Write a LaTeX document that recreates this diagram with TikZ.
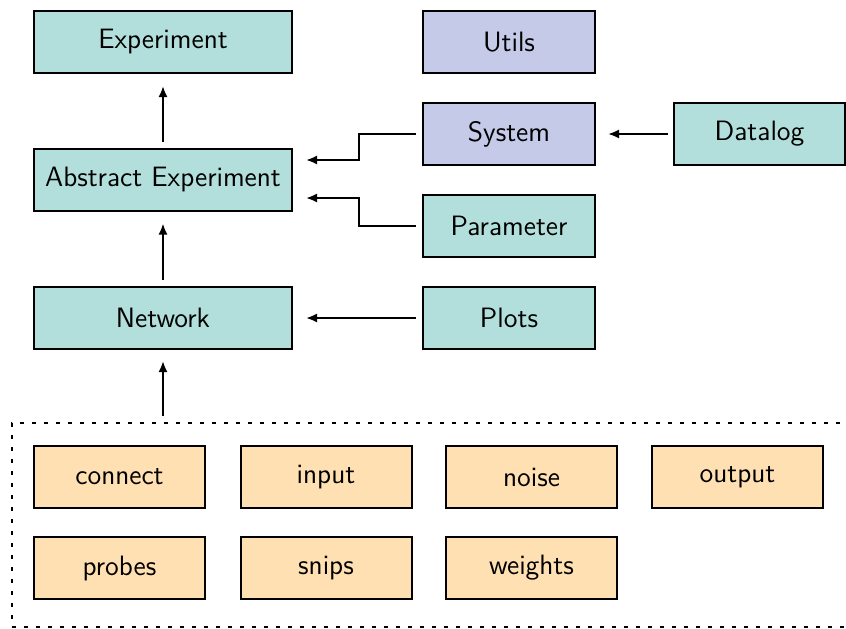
\documentclass[tikz,border=0pt]{standalone}
\usetikzlibrary{arrows.meta,calc}
\definecolor{teal1}{HTML}{B2DFDB}
\definecolor{indigo1}{HTML}{C5CAE9}
\definecolor{orange1}{HTML}{FFE0B2}
\begin{document}
\begin{tikzpicture}[x=0.5pt,y=-0.5pt,
  box/.style={draw=black, line width=1pt, minimum height=31pt, inner sep=0pt,
    font=\sffamily\fontsize{14}{16.5}\selectfont},
  wide/.style={box, minimum width=129pt},
  mid/.style={box, minimum width=86pt},
  tealbox/.style={fill=teal1},
  indbox/.style={fill=indigo1},
  orbox/.style={fill=orange1, box, minimum width=85.5pt},
  arr/.style={-{Latex[length=5.5pt,width=4.5pt]}, line width=1pt},
  framebox/.style={draw=black, line width=1pt, dash pattern=on 2pt off 4pt, minimum width=435pt, minimum height=102pt, inner sep=0pt}
]
\useasboundingbox (0,0) rectangle (846,628);
\clip (0,0) rectangle (846,628);

\node[wide, tealbox] (exp) at (163,42) {Experiment};
\node[mid, indbox] (utl) at (509,42) {Utils};
\node[mid, indbox] (sys) at (509,134) {System};
\node[box, tealbox, minimum width=85.5pt] (dat) at (759.5,134) {Datalog};
\node[wide, tealbox] (abs) at (163,179.5) {Abstract Experiment};
\node[mid, tealbox] (par) at (509,226) {Parameter};
\node[wide, tealbox] (net) at (163,318) {Network};
\node[mid, tealbox] (plt) at (509,318) {Plots};

\node[framebox] (fr) at (447,525) {};

\node[orbox] (con) at (119.5,477) {connect};
\node[orbox] (inp) at (326,477) {input};
\node[orbox] (noi) at (531.5,477) {noise};
\node[orbox] (out) at (737.5,477) {output};
\node[orbox] (prb) at (119.5,568) {probes};
\node[orbox] (snp) at (326,568) {snips};
\node[orbox] (wgt) at (531.5,568) {weights};

\draw[arr, shorten <=3pt, shorten >=6pt] (abs.north) -- (exp.south);
\draw[arr, shorten <=3pt, shorten >=6pt] (net.north) -- (abs.south);
\draw[arr, shorten <=3pt, shorten >=5.5pt] (net.south |- fr.north) -- (net.south);
\draw[arr, shorten <=3pt, shorten >=6.5pt] (sys.west) -- ++(-63,0) |- ([yshift=9.75pt]abs.east);
\draw[arr, shorten <=3pt, shorten >=6.5pt] (par.west) -- ++(-63,0) |- ([yshift=-9.25pt]abs.east);
\draw[arr, shorten <=2.5pt, shorten >=6pt] (dat.west) -- (sys.east);
\draw[arr, shorten <=3pt, shorten >=6.5pt] (plt.west) -- (net.east);
\end{tikzpicture}
\end{document}
